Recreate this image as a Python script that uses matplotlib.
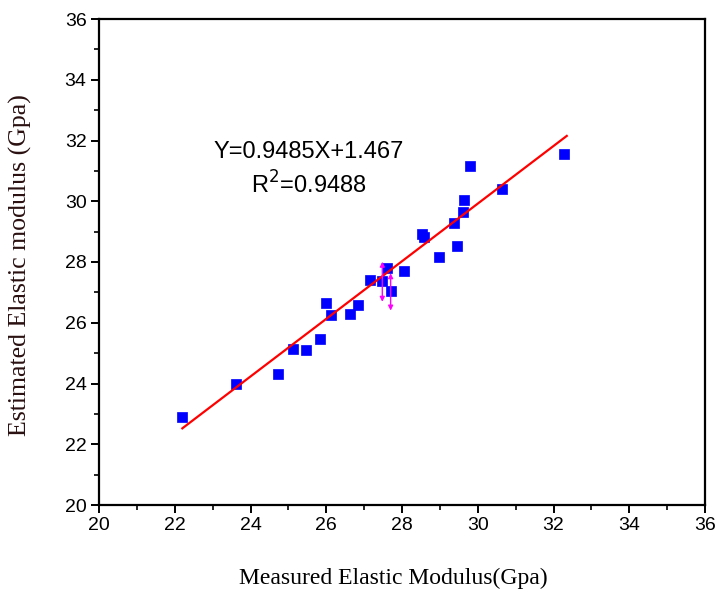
import matplotlib
matplotlib.use("Agg")
import matplotlib.pyplot as plt
import numpy as np
from matplotlib.ticker import MultipleLocator

measured = [22.20, 23.63, 24.72, 25.13, 25.46, 25.84, 26.00, 26.13, 26.62, 26.83,
            27.16, 27.48, 27.60, 27.70, 28.05, 28.53, 28.58, 28.97, 29.37, 29.46,
            29.60, 29.63, 29.80, 30.64, 32.29]
estimated = [22.89, 23.98, 24.32, 25.15, 25.10, 25.45, 26.66, 26.24, 26.28, 26.58,
             27.41, 27.38, 27.79, 27.05, 27.70, 28.91, 28.83, 28.17, 29.29, 28.53,
             29.65, 30.03, 31.16, 30.41, 31.56]
slope = 0.9485
intercept = 1.467
fit_x = [22.2, 32.35]
arrow_x = [27.48, 27.70]
arrow_top = [28.01, 27.63]
arrow_bottom = [26.69, 26.40]

fig = plt.figure(figsize=(7.15, 5.96), dpi=100)
ax = fig.add_axes([99/715, 1-505/596, (705-99)/715, (505-19)/596])

fx = np.array(fit_x)
ax.plot(fx, slope*fx + intercept, color='#ff0000', lw=1.6, zorder=3)
ax.plot(measured, estimated, 's', color='#0000ff', ms=7.8, mec='#0000ff', mew=0.5, zorder=2)
for xa, yt, yb in zip(arrow_x, arrow_top, arrow_bottom):
    ax.annotate('', xy=(xa, yt), xytext=(xa, yb),
                arrowprops=dict(arrowstyle='<|-|>', color='#ff00ff', lw=1.0,
                                mutation_scale=7, shrinkA=0, shrinkB=0), zorder=4)

ax.set_xlim(20, 36)
ax.set_ylim(20, 36)
ax.xaxis.set_major_locator(MultipleLocator(2))
ax.xaxis.set_minor_locator(MultipleLocator(1))
ax.yaxis.set_major_locator(MultipleLocator(2))
ax.yaxis.set_minor_locator(MultipleLocator(1))
for s in ax.spines.values():
    s.set_linewidth(1.6)
ax.tick_params(which='major', direction='out', length=6, width=1.4,
               labelsize=14, top=False, right=False, pad=3)
ax.tick_params(which='minor', direction='out', length=3.5, width=1.2,
               top=False, right=False)
for lab in ax.get_xticklabels() + ax.get_yticklabels():
    lab.set_fontfamily('Liberation Sans')

ax.text(0.346, 0.726, 'Y=0.9485X+1.467', transform=ax.transAxes,
        ha='center', va='center', fontsize=17, family='Liberation Sans')
ax.text(0.346, 0.658, r'R$^2$=0.9488', transform=ax.transAxes,
        ha='center', va='center', fontsize=17, family='Liberation Sans')

fig.text(393/715, 1-578/596, 'Measured Elastic Modulus(Gpa)', ha='center',
         va='center', fontsize=17, family='Liberation Serif')
fig.text(20/715, 1-265.5/596, 'Estimated Elastic modulus (Gpa)', ha='center',
         va='center', rotation=90, fontsize=18.6, family='Liberation Serif',
         color='#2a1010')

fig.savefig('out.png', dpi=100)
